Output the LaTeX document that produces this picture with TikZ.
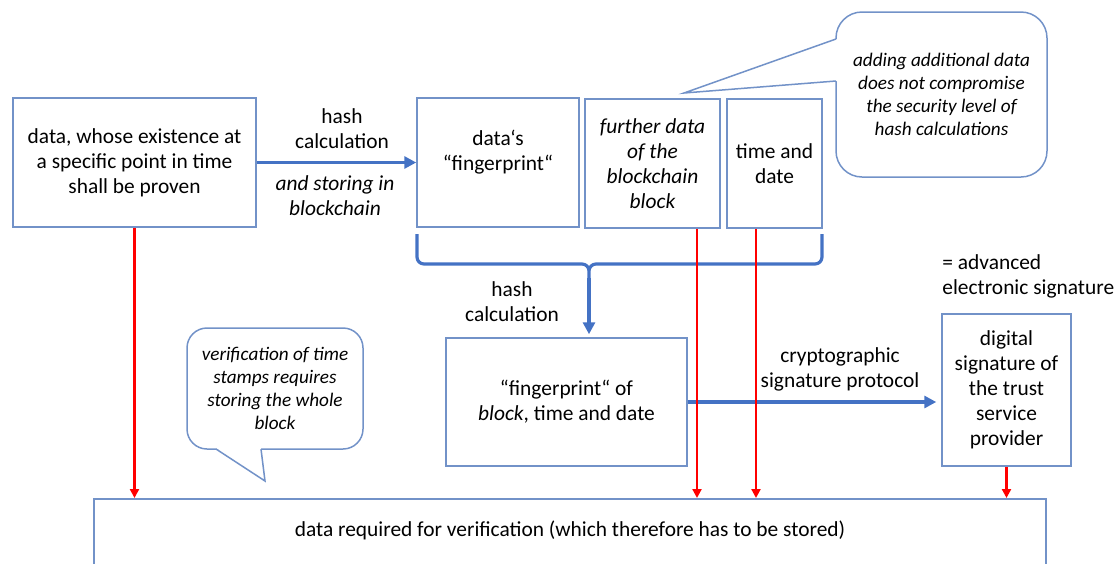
\documentclass[tikz,border=0pt]{standalone}
\usepackage{fontspec}
\setmainfont{Carlito}
\usetikzlibrary{arrows.meta}
\definecolor{boxline}{HTML}{7292C8}
\definecolor{flowblue}{HTML}{4472C4}
\definecolor{markred}{HTML}{FF0000}
\begin{document}
\begin{tikzpicture}[x=0.5pt,y=-0.5pt,
  blk/.style={draw=boxline,line width=0.75pt,inner sep=0pt,align=center,font=\fontsize{10.7}{12.5}\selectfont},
  bubble/.style={draw=boxline,line width=0.75pt,inner sep=0pt,align=center,font=\fontsize{9.6}{11.5}\selectfont\itshape},
  lbl/.style={inner sep=0pt,align=center,font=\fontsize{10.7}{12.5}\selectfont},
  bluearr/.style={draw=flowblue,line width=1.6pt,-{Triangle[length=6pt,width=6pt]}},
  redarr/.style={draw=markred,line width=1.4pt,-{Triangle[length=4.5pt,width=4.5pt]}}]
\useasboundingbox (0,0) rectangle (1118,563);
\node[blk,minimum width=121.5pt,minimum height=64.5pt] (data) at (134.5,162.5)
  {data, whose existence at\\a specific point in time\\shall be proven};
\node[blk,minimum width=81pt,minimum height=64.5pt] (fp) at (498,162.5)
  {data‘s\\“fingerprint“\\\mbox{}};
\node[blk,minimum width=67.5pt,minimum height=64.5pt,font=\fontsize{10.7}{12.5}\selectfont\itshape] (further) at (652.5,163.5)
  {further data\\of the\\blockchain\\block};
\node[blk,minimum width=47.5pt,minimum height=64.5pt] (time) at (774.5,163.5)
  {time and\\date};
\node[blk,minimum width=120.5pt,minimum height=64pt] (blockfp) at (566.5,402)
  {“fingerprint“ of\\\textit{block}, time and date};
\node[blk,minimum width=64.5pt,minimum height=76pt] (sig) at (1006.5,390)
  {digital\\signature of\\the trust\\service\\provider};
\node[blk,anchor=north,minimum width=476pt,text height=19pt,text depth=15pt] (store) at (570,498)
  {data required for verification (which therefore has to be stored)};
\node[lbl] (hc1) at (342,129) {hash\\calculation};
\node[lbl,font=\fontsize{10.7}{12.5}\selectfont\itshape] (st) at (335,196) {and storing in\\blockchain};
\node[lbl] (hc2) at (512,302) {hash\\calculation};
\node[lbl] (cr) at (840,369) {cryptographic\\signature protocol};
\node[lbl,anchor=west,align=left] (adv) at (942,276.5) {= advanced\\electronic signature};
\node[bubble,rounded corners=13pt,minimum width=105.5pt,minimum height=82.5pt] (note1) at (941.5,94.5)
  {adding additional data\\does not compromise\\the security level of\\hash calculations};
\coordinate (n1a) at (836,39);
\coordinate (n1b) at (836,81);
\coordinate (n1t) at (684,93);
\fill[white] ([xshift=0.5pt]n1a) -- (n1t) -- ([xshift=0.5pt]n1b) -- cycle;
\draw[boxline,line width=0.75pt] (n1a) -- (n1t) -- (n1b);
\node[bubble,rounded corners=10pt,minimum width=88pt,minimum height=60.5pt] (note2) at (275,388.5)
  {verification of time\\stamps requires\\storing the whole\\block};
\coordinate (n2a) at (216,449);
\coordinate (n2b) at (261,449);
\coordinate (n2t) at (265,481);
\fill[white] ([yshift=0.5pt]n2a) -- (n2t) -- ([yshift=0.5pt]n2b) -- cycle;
\draw[boxline,line width=0.75pt] (n2a) -- (n2t) -- (n2b);
\draw[bluearr] (data.east) -- (fp.west);
\draw[draw=flowblue,line width=1.6pt,rounded corners=3.5pt]
  (417,234) -- (417,264) -- (589,264) -- (589,280)
  (822,234) -- (822,264) -- (589,264) -- (589,280);
\coordinate (bt) at (589,278);
\draw[bluearr] (bt) -- ([yshift=1.5pt]bt |- blockfp.north);
\draw[bluearr,shorten >=2.5pt] (blockfp.east) -- (sig.west |- blockfp.east);
\coordinate (fd) at ([xshift=22.25pt]further.south);
\coordinate (td) at ([xshift=-9.25pt]time.south);
\draw[redarr] (data.south) -- (data.south |- store.north);
\draw[redarr] (fd) -- (fd |- store.north);
\draw[redarr] (td) -- (td |- store.north);
\draw[redarr] (sig.south) -- (sig.south |- store.north);
\end{tikzpicture}
\end{document}
